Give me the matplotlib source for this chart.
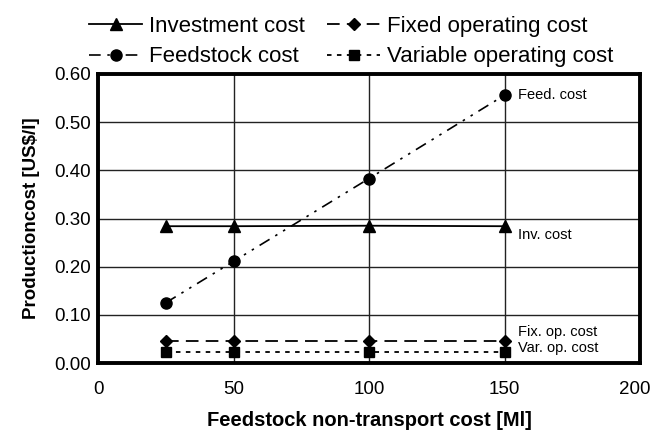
import matplotlib
matplotlib.use("Agg")
import matplotlib.pyplot as plt
import matplotlib.transforms as mtransforms
from matplotlib.ticker import FormatStrFormatter

plt.rcParams['font.family'] = ['Liberation Sans', 'DejaVu Sans']

x = [25, 50, 100, 150]
investment = [0.284, 0.284, 0.285, 0.284]
feedstock = [0.125, 0.211, 0.383, 0.556]
fixed_op = [0.046, 0.046, 0.046, 0.046]
variable_op = [0.023, 0.023, 0.023, 0.023]

fig = plt.figure(figsize=(6.53, 4.32), dpi=100)
ax = fig.add_axes([98/653, 1-363/432, 542/653, (363-74)/432])

l1, = ax.plot(x, investment, color='black', lw=1.3, ls='-', marker='^', ms=8, label='Investment cost')
l2, = ax.plot(x, feedstock, color='black', lw=1.2, ls=(0, (7, 4, 1.5, 4, 1.5, 4)), marker='o', ms=8, label='Feedstock cost')
l3, = ax.plot(x, fixed_op, color='black', lw=1.3, ls=(0, (7, 4)), marker='D', ms=6, label='Fixed operating cost')
l4, = ax.plot(x, variable_op, color='black', lw=1.3, ls=(0, (2.5, 3)), marker='s', ms=7.5, label='Variable operating cost')

ax.set_xlim(0, 200)
ax.set_ylim(0, 0.60)
ax.set_xticks([0, 50, 100, 150, 200])
ax.set_yticks([0, 0.1, 0.2, 0.3, 0.4, 0.5, 0.6])
ax.yaxis.set_major_formatter(FormatStrFormatter('%.2f'))
ax.grid(True, color='#222222', lw=1.0)
ax.set_axisbelow(True)
for s in ax.spines.values():
    s.set_linewidth(2.8)
ax.tick_params(length=0, labelsize=13.5)
ax.tick_params(axis='x', pad=13)
ax.tick_params(axis='y', pad=5)

fig.canvas.draw()
last = ax.get_xticklabels()[-1]
last.set_transform(last.get_transform() + mtransforms.ScaledTranslation(-5/100, 0, fig.dpi_scale_trans))

ax.text(155, 0.556, 'Feed. cost', fontsize=10.5, va='center')
ax.text(155, 0.266, 'Inv. cost', fontsize=10.5, va='center')
ax.text(155, 0.064, 'Fix. op. cost', fontsize=10.5, va='center')
ax.text(155, 0.031, 'Var. op. cost', fontsize=10.5, va='center')

ax.set_xlabel('Feedstock non-transport cost [Ml]', fontsize=14.5, fontweight='bold', labelpad=9)
ax.set_ylabel('Productioncost [US$/l]', fontsize=13.5, fontweight='bold', labelpad=10)

fig.legend(handles=[l1, l2, l3, l4], ncol=2, loc='upper left', bbox_to_anchor=(89/653, 1 - 16/432),
           frameon=False, fontsize=16, handlelength=2.4, handletextpad=0.3,
           columnspacing=1.0, labelspacing=0.42, borderpad=0, borderaxespad=0)

fig.savefig('out.png', dpi=100)
